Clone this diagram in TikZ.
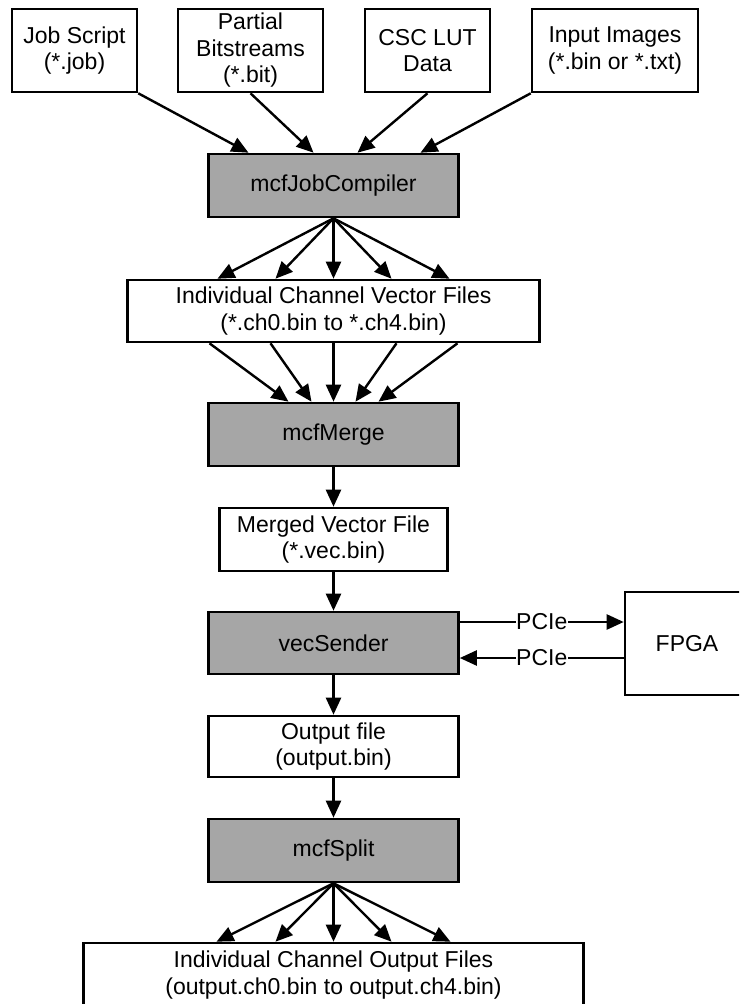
\documentclass[tikz,border=0pt]{standalone}
\usepackage{fontspec}
\setmainfont{Liberation Sans}
\usetikzlibrary{arrows.meta,calc}
\definecolor{procgray}{RGB}{166,166,166}
\tikzset{
  filebox/.style={draw=black, line width=2.6pt, fill=white, inner sep=0pt,
    align=center, font=\fontsize{23}{26.5}\selectfont},
  procbox/.style={filebox, fill=procgray},
  arr/.style={line width=2.4pt, -{Triangle[length=17pt,width=15pt]}},
  lbl/.style={fill=white, inner sep=0.5pt, font=\fontsize{23}{26.5}\selectfont}
}
\begin{document}
\begin{tikzpicture}[x=1pt,y=-1pt]
\useasboundingbox (0,0) rectangle (739,1004);
\clip (0,0) rectangle (739,1004);
\fill[white] (0,0) rectangle (739,1004);

% inputs
\node[filebox, minimum width=125pt, minimum height=83pt] (job) at (74.5,50.5) {Job Script\\(*.job)};
\node[filebox, minimum width=145pt, minimum height=83pt] (bits) at (250.5,50.5) {Partial\\Bitstreams\\(*.bit)};
\node[filebox, minimum width=125pt, minimum height=83pt] (lut) at (427.5,50.5) {CSC LUT\\Data};
\node[filebox, minimum width=166pt, minimum height=83pt] (img) at (615,50.5) {Input Images\\(*.bin or *.txt)};

% main chain
\node[procbox, minimum width=250pt, minimum height=63pt] (comp) at (333.5,185.5) {mcfJobCompiler};
\node[filebox, minimum width=412pt, minimum height=62pt] (chvec) at (333.5,311) {Individual Channel Vector Files\\(*.ch0.bin to *.ch4.bin)};
\node[procbox, minimum width=250pt, minimum height=63pt] (merge) at (333.5,434.5) {mcfMerge};
\node[filebox, minimum width=228pt, minimum height=63pt] (vec) at (333.5,539.5) {Merged Vector File\\(*.vec.bin)};
\node[procbox, minimum width=250pt, minimum height=62pt] (send) at (333.5,643) {vecSender};
\node[filebox, minimum width=250pt, minimum height=61pt] (out) at (333.5,746.5) {Output file\\(output.bin)};
\node[procbox, minimum width=250pt, minimum height=63pt] (split) at (333.5,850.5) {mcfSplit};
\node[filebox, minimum width=500pt, minimum height=64pt] (chout) at (333.5,975) {Individual Channel Output Files\\(output.ch0.bin to output.ch4.bin)};

% hardware
\node[filebox, minimum width=124pt, minimum height=103pt] (fpga) at (687,643.5) {FPGA};

% inputs into the compiler
\draw[arr] (job.south east) -- ([xshift=-85pt]comp.north);
\draw[arr] (bits.south) -- ([xshift=-20pt]comp.north);
\draw[arr] (lut.south) -- ([xshift=24pt]comp.north);
\draw[arr] (img.south west) -- ([xshift=87pt]comp.north);

% compiler fans out to the channel files
\foreach \dx in {-116,-58,0,58,116}
  \draw[arr] (comp.south) -- ([xshift=\dx pt]chvec.north);

% channel files merged
\foreach \sx/\ex in {-124/-45,-63/-22,0/0,63/22,124/45}
  \draw[arr] ([xshift=\sx pt]chvec.south) -- ([xshift=\ex pt]merge.north);

\draw[arr] (merge) -- (vec);
\draw[arr] (vec) -- (send);
\draw[arr] (send) -- (out);
\draw[arr] (out) -- (split);

% PCIe link
\draw[arr] ([yshift=21pt]send.east) -- node[lbl]{PCIe} ([yshift=21pt]send.east -| fpga.west);
\draw[arr] ([yshift=-15pt]send.east -| fpga.west) -- node[lbl]{PCIe} ([yshift=-15pt]send.east);

% split fans out to the output files
\foreach \dx in {-117,-58,0,58,117}
  \draw[arr] (split.south) -- ([xshift=\dx pt]chout.north);
\end{tikzpicture}
\end{document}
